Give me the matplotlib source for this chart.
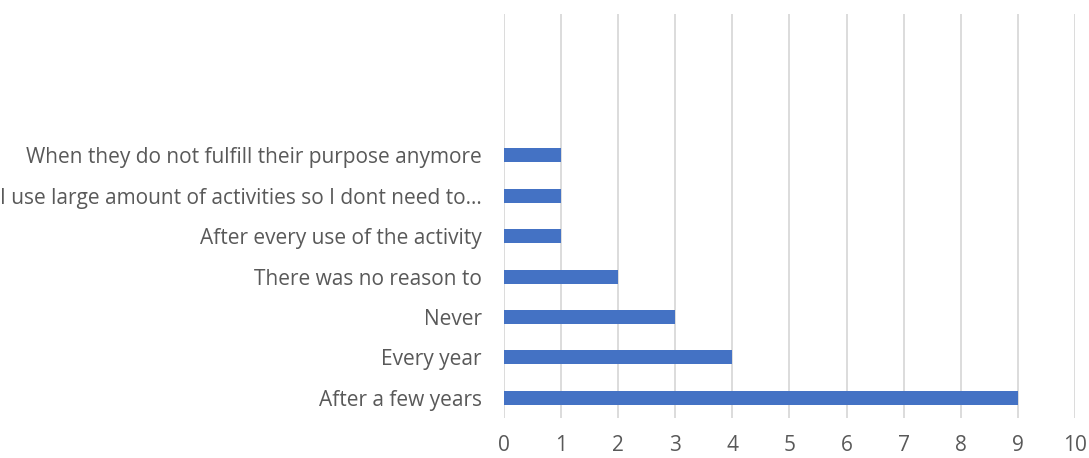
import matplotlib.pyplot as plt
import numpy

answers = ["After a few years", "Every year", "Never", "There was no reason to",
           "After every use of the activity",
           "I use large amount of activities so I dont need to\u2026",
           "When they do not fulfill their purpose anymore", "", "", ""]
counts = [9, 4, 3, 2, 1, 1, 1, 0, 0, 0]

text_color = "#595959"
plt.rcParams["font.family"] = ["Open Sans", "DejaVu Sans"]

fig = plt.figure(figsize=(10.89, 4.58), dpi=100)
ax = fig.add_axes([0.4628, 0.0873, 0.5243, 0.8821])

positions = numpy.arange(len(answers))
ax.barh(positions, counts, height=0.35, color="#4472C4", zorder=3)

ax.set_xlim(0, 10)
ax.set_ylim(-0.5, len(answers) - 0.5)
ax.set_xticks(range(0, 11))
ax.set_yticks(positions)
ax.set_yticklabels(answers)

ax.grid(axis="x", color="#d9d9d9", linewidth=1.3, zorder=0)
for side in ["top", "right", "bottom", "left"]:
    ax.spines[side].set_visible(False)

ax.tick_params(axis="both", length=0, labelsize=15, labelcolor=text_color)
ax.tick_params(axis="y", pad=16)
ax.tick_params(axis="x", pad=12)

fig.savefig("out.png", dpi=100)
